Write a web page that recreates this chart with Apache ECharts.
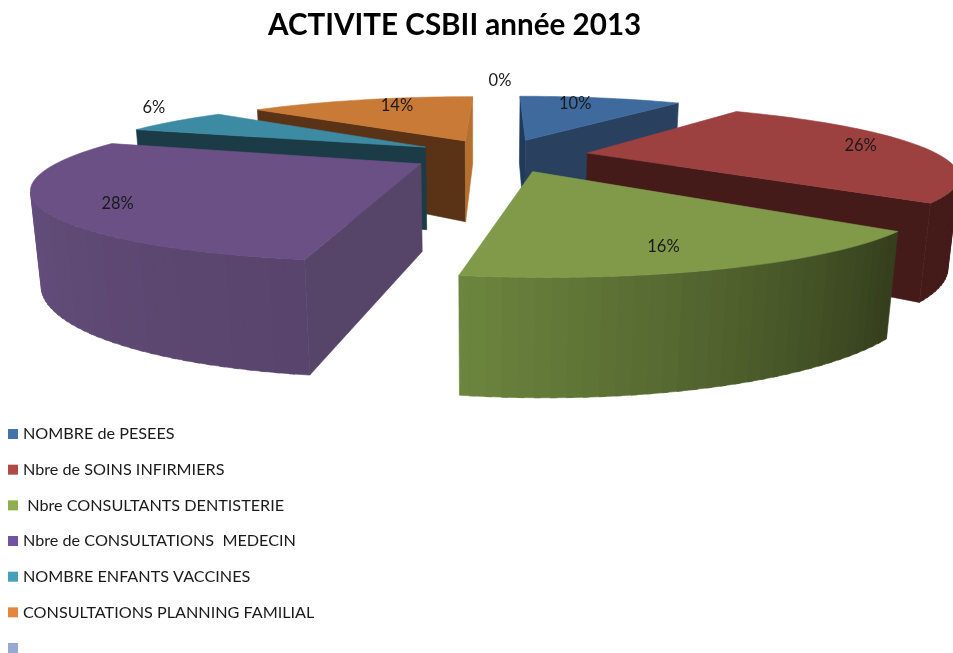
<!DOCTYPE html>
<html><head><meta charset="utf-8">
<style>html,body{margin:0;padding:0;background:#fff}#c{width:953px;height:653px}</style>
<script src="https://cdn.jsdelivr.net/npm/echarts@6/dist/echarts.min.js"></script>
</head><body><div id="c"></div>
<script>
const titleText = 'ACTIVITE CSBII année 2013';
const categories = ['NOMBRE de PESEES','Nbre de SOINS INFIRMIERS',' Nbre CONSULTANTS DENTISTERIE','Nbre de CONSULTATIONS  MEDECIN','NOMBRE ENFANTS VACCINES','CONSULTATIONS PLANNING FAMILIAL',' '];
const values = [9.9, 26.4, 16.3, 27.6, 6.1, 13.7, 0];

// styles
const legendColors = ['#4472AD','#B04A47','#8FAE50','#7154A0','#46A0B8','#E5863E','#95A9D3'];
const topColors    = ['#3F6A9E','#9C4140','#809A4A','#6A5085','#3C8BA2','#C97A36','#95A9D3'];
const startWall    = ['#1F3A5A','#451B1A','#333D1B','#574469','#1B3B47','#5A3316','#95A9D3'];
const endWall      = ['#29405F','#451B1A','#333D1B','#574469','#1B3B47','#B5702F','#95A9D3'];
const arcFrom      = [[41,64,95],[69,27,26],[52,62,28],[88,68,108],[27,59,71],[90,51,22],[0,0,0]];
const arcTo        = [[41,64,95],[69,27,26],[109,134,63],[108,84,134],[27,59,71],[90,51,22],[0,0,0]];
const drawOrder    = [1,4,6,5,3,2,7];
const labelRadius  = [.816,.824,.786,.82,1.317,.8,1.46];
const labelTurn    = [-3.7,-2,2,-3.5,9,5,0];

// projection of the tilted pie
const EXPLODE=.25, RX=.99, RY=.97, VX=500, VY=-70, SCALE_X=355, SCALE_Y=225, DEPTH=.2925, H=85, H_POW=.8, VERT_X=480, VERT_K=.00025;
const total = values.reduce((a,b)=>a+b,0);
const rad = d=>d*Math.PI/180;
function upper(x,y){const w=1+DEPTH*y;return [VX+SCALE_X*x/w,VY+SCALE_Y/w];}
function lower(x,y){const w=1+DEPTH*y;const p=upper(x,y);const h=H/Math.pow(w,H_POW);return [p[0]+(VERT_X-p[0])*VERT_K*h,p[1]+h];}
function area(q){let s=0;for(let i=0;i<q.length;i++){const a=q[i],b=q[(i+1)%q.length];s+=a[0]*b[1]-b[0]*a[1];}return s;}
function mix(a,b,t){return 'rgb('+a.map((v,i)=>Math.round(v+(b[i]-v)*t)).join(',')+')';}
function poly(pts,fill,z){return {type:'polygon',shape:{points:pts},silent:true,style:{fill:fill,stroke:fill,lineWidth:.6},z2:z||0};}

const starts=[];let acc=0;values.forEach(v=>{starts.push(acc/total*360);acc+=v;});

function renderItem(params,api){
  const i=params.seriesIndex, v=api.value(0);
  const a0=starts[i], a1=a0+v/total*360, mid=(a0+a1)/2;
  const ax=Math.sin(rad(mid))*EXPLODE, ay=Math.cos(rad(mid))*EXPLODE;
  const P=a=>[ax+RX*Math.sin(rad(a)),ay+RY*Math.cos(rad(a))];
  const ch=[];
  if(v>0){
    const steps=Math.max(2,Math.ceil((a1-a0)/1.8));
    const arc=[];for(let k=0;k<=steps;k++)arc.push(a0+(a1-a0)*k/steps);
    const s=P(a0), e=P(a1);
    const qS=[upper(ax,ay),upper(s[0],s[1]),lower(s[0],s[1]),lower(ax,ay)];
    const qE=[upper(ax,ay),upper(e[0],e[1]),lower(e[0],e[1]),lower(ax,ay)];
    if(area(qS)<0)ch.push(poly(qS,startWall[i]));
    if(area(qE)>0)ch.push(poly(qE,endWall[i]));
    const segs=[];
    for(let k=0;k<steps;k++){
      const p=P(arc[k]),q=P(arc[k+1]);
      const quad=[upper(p[0],p[1]),upper(q[0],q[1]),lower(q[0],q[1]),lower(p[0],p[1])];
      if(area(quad)<0){
        // overlap the next band by a little so no seam shows between bands
        const q2=P(Math.min(a1,arc[k+1]+.7));
        segs.push(poly([upper(p[0],p[1]),upper(q2[0],q2[1]),lower(q2[0],q2[1]),lower(p[0],p[1])],mix(arcFrom[i],arcTo[i],(k+.5)/steps)));
      }
    }
    segs.reverse().forEach(x=>ch.push(x));
    const face=[upper(ax,ay)];arc.forEach(a=>{const p=P(a);face.push(upper(p[0],p[1]));});
    ch.push(poly(face,topColors[i],1));
  }
  const la=mid+labelTurn[i], lr=labelRadius[i];
  const lp=upper(ax+Math.sin(rad(la))*lr,ay+Math.cos(rad(la))*lr);
  ch.push({type:'text',z2:2,silent:true,style:{x:lp[0],y:lp[1]+1,text:Math.round(v/total*100)+'%',align:'center',verticalAlign:'middle',
    font:'16.5px Lato',fill:'#1a1a1a'}});
  return {type:'group',children:ch};
}

const chart=echarts.init(document.getElementById('c'),null,{renderer:'canvas'});
chart.setOption({
  animation:false,backgroundColor:'#fff',
  title:{text:titleText,left:263,top:5,textStyle:{fontFamily:'Lato',fontSize:29.6,fontWeight:'bold',color:'#000'}},
  legend:{orient:'vertical',left:8,top:426,height:300,itemWidth:10,itemHeight:10,itemGap:19.67,padding:0,icon:'rect',selectedMode:false,
    data:categories.slice(),textStyle:{fontFamily:'Lato',fontSize:16.2,color:'#1a1a1a',lineHeight:16,padding:[0,0,0,0]}},
  series:categories.map((name,i)=>({type:'custom',name:name,coordinateSystem:'none',z:drawOrder[i],
    itemStyle:{color:legendColors[i]},data:[[values[i]]],renderItem:renderItem,clip:false}))
});
</script></body></html>
